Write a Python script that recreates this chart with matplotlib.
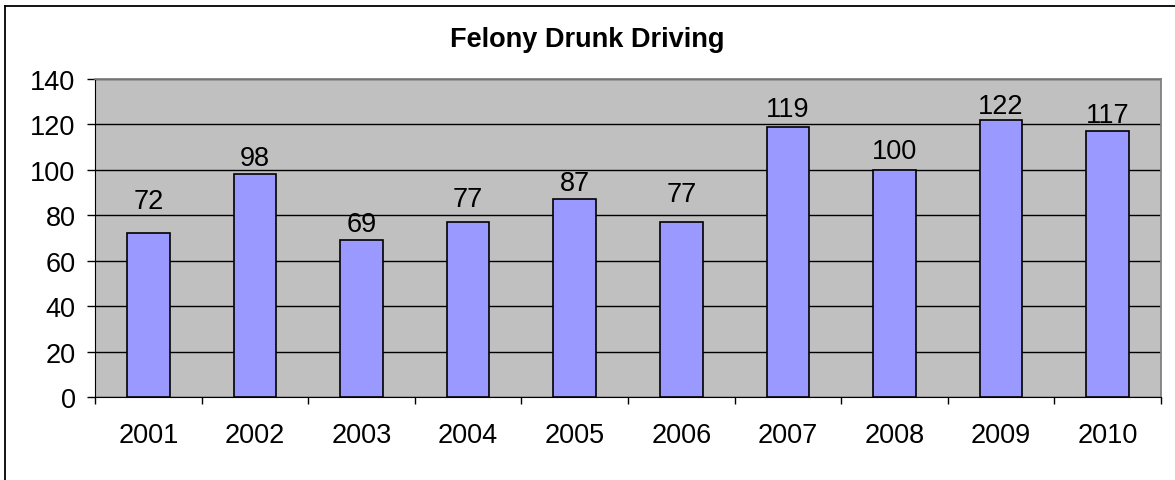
import matplotlib.pyplot as plt
from matplotlib.lines import Line2D
import numpy as np

plt.rcParams['font.family'] = ['Liberation Sans', 'DejaVu Sans']

years = ['2001', '2002', '2003', '2004', '2005', '2006', '2007', '2008', '2009', '2010']
counts = [72, 98, 69, 77, 87, 77, 119, 100, 122, 117]
y_ticks = [0, 20, 40, 60, 80, 100, 120, 140]
# labels were nudged by hand in the original, gap above bar in points
label_gap = [18.5, 7, 7, 11.5, 6.5, 15, 8, 8.5, 5, 6.5]

fig = plt.figure(figsize=(11.75, 4.81), dpi=100)
# outer chart frame (only left and top edges show in the crop)
fig.lines.append(Line2D([0.0045, 0.0045], [0, 0.986], transform=fig.transFigure,
                        color='black', linewidth=1.3))
fig.lines.append(Line2D([0.0045, 1.0], [0.986, 0.986], transform=fig.transFigure,
                        color='black', linewidth=1.3))

ax = fig.add_axes([0.0809, 0.1726, 0.9071, 0.6611])
ax.set_facecolor('#c0c0c0')

x = np.arange(len(years))
ax.bar(x, counts, width=0.4, color='#9999ff', edgecolor='black', linewidth=1.2, zorder=3)

for xi, v, g in zip(x, counts, label_gap):
    ax.annotate(str(v), (xi, v), xytext=(0, g), textcoords='offset points',
                ha='center', va='baseline', fontsize=19.5)

ax.set_xlim(-0.5, len(years) - 0.5)
ax.set_ylim(0, 140)
ax.set_yticks(y_ticks)
ax.set_yticklabels([str(t) for t in y_ticks], fontsize=19.5)
ax.yaxis.grid(True, color='black', linewidth=1, zorder=0)
ax.set_axisbelow(True)

ax.set_xticks(x)
ax.set_xticklabels(years, fontsize=19.5)
ax.tick_params(axis='x', length=0, pad=18)
ax.set_xticks(np.arange(-0.5, len(years)), minor=True)
ax.tick_params(axis='x', which='minor', length=5, width=1, direction='out')
ax.tick_params(axis='y', length=6, width=1, direction='out', pad=8)

for side in ['top', 'right']:
    ax.spines[side].set_color('#808080')
    ax.spines[side].set_linewidth(1.3)
ax.spines['left'].set_color('black')
ax.spines['bottom'].set_color('black')

fig.text(0.5, 0.916, 'Felony Drunk Driving', ha='center', va='center',
         fontsize=19.5, fontweight='bold')

fig.savefig('out.png', dpi=100)
